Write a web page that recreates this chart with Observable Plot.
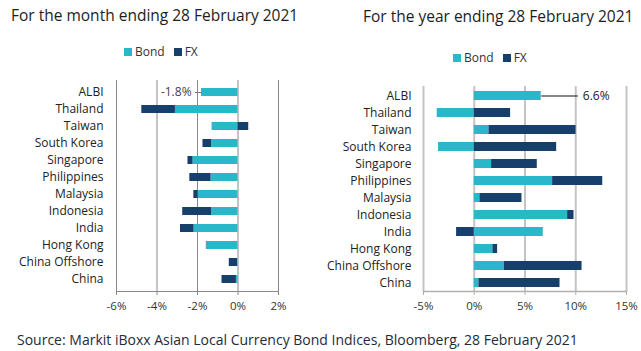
<!DOCTYPE html>
<html>
<head>
<meta charset="utf-8">
<script src="https://cdn.jsdelivr.net/npm/d3@7"></script>
<script src="https://cdn.jsdelivr.net/npm/@observablehq/plot@0.6"></script>
<style>
  html, body { margin: 0; padding: 0; background: #fff; }
  #wrap { position: relative; width: 641px; height: 351px; overflow: hidden; font-family: "Open Sans", sans-serif; color: #1d1d1b; }
  .title { position: absolute; font-size: 15.5px; white-space: nowrap; line-height: 20px; }
  .legend { position: absolute; font-size: 12px; white-space: nowrap; line-height: 14px; color: #333; }
  .sw { display: inline-block; width: 8px; height: 8px; margin-right: 3px; vertical-align: 0px; }
  .item { margin-right: 9px; }
  .caption { position: absolute; font-size: 14px; white-space: nowrap; line-height: 18px; color: #1d2b3a; }
  .plot { position: absolute; top: 70px; }
</style>
</head>
<body>
<div id="wrap">
  <div class="title" style="left:11px; top:5px;">For the month ending 28 February 2021</div>
  <div class="title" style="left:363px; top:6px;">For the year ending 28 February 2021</div>
  <div class="legend" id="legL" style="left:124px; top:45px;"></div>
  <div class="legend" id="legR" style="left:453px; top:51px;"></div>
  <div class="plot" id="left" style="left:0px;"></div>
  <div class="plot" id="right" style="left:320px;"></div>
  <div class="caption" style="left:17px; top:331px;">Source: Markit iBoxx Asian Local Currency Bond Indices, Bloomberg, 28 February 2021</div>
</div>
<script>
const categories = ["ALBI","Thailand","Taiwan","South Korea","Singapore","Philippines","Malaysia","Indonesia","India","Hong Kong","China Offshore","China"];
const series = ["Bond","FX"];
const colors = ["#29b8c9","#173f6b"];
// month ending 28 Feb 2021 (%)
const monthBond = [-1.80, -3.09, -1.28, -1.30, -2.22, -1.33, -1.97, -1.30, -2.17, -1.54, -0.02, -0.08];
const monthFX   = [ 0.00, -1.66,  0.53, -0.43, -0.25, -1.05, -0.21, -1.43, -0.67, -0.02, -0.41, -0.71];
// year ending 28 Feb 2021 (%)
const yearBond = [6.60, -3.65, 1.45, -3.52, 1.71, 7.72, 0.56, 9.20, 6.80, 1.84, 2.96, 0.46];
const yearFX   = [0.00,  3.58, 8.58,  8.12, 4.50, 4.94, 4.14, 0.63, -1.74, 0.46, 7.66, 7.99];
const monthTicks = [-6, -4, -2, 0, 2];
const yearTicks = [-5, 0, 5, 10, 15];
const monthLabel = "-1.8%";
const yearLabel = "6.6%";

function rows(bond, fx) {
  const out = [];
  categories.forEach((c, i) => {
    out.push({cat: c, type: series[0], value: bond[i]});
    out.push({cat: c, type: series[1], value: fx[i]});
  });
  return out;
}

function legend(el) {
  el.innerHTML = series.map((s, i) =>
    `<span class="item"><span class="sw" style="background:${colors[i]}"></span>${s}</span>`).join("");
}
legend(document.getElementById("legL"));
legend(document.getElementById("legR"));

const fmt = d => `${d}%`;
const font = {fontFamily: "'Open Sans', sans-serif", fontSize: "12px", background: "transparent", color: "#222"};

// LEFT: month
const mData = rows(monthBond, monthFX);
const albiM = [{cat: categories[0], total: monthBond[0] + monthFX[0], label: monthLabel}];
const left = Plot.plot({
  width: 320, height: 251,
  marginLeft: 116, marginRight: 42, marginTop: 10, marginBottom: 30,
  style: font,
  x: {domain: [monthTicks[0], monthTicks[monthTicks.length - 1]]},
  y: {domain: categories, paddingInner: 0.54, paddingOuter: 0.3},
  color: {domain: series, range: colors},
  marks: [
    Plot.ruleX(monthTicks, {stroke: "#8a8a8a", strokeWidth: 1}),
    Plot.frame({anchor: "bottom", stroke: "#8a8a8a", strokeWidth: 1}),
    Plot.barX(mData, Plot.stackX({y: "cat", x: "value", fill: "type", order: series})),
    Plot.link(albiM, {y1: "cat", y2: "cat", x1: "total", x2: d => d.total - 0.33, stroke: "#777", strokeWidth: 1}),
    Plot.text(albiM, {y: "cat", x: "total", text: "label", dx: -10, textAnchor: "end", fontSize: 12, fill: "#444"}),
    Plot.axisX({ticks: monthTicks, tickFormat: fmt, tickSize: 4, tickPadding: 6, stroke: "#8a8a8a", fill: "#333", fontSize: 11.5, label: null}),
    Plot.axisY({tickSize: 0, tickPadding: 13, fill: "#222", fontSize: 12, label: null})
  ]
});
document.getElementById("left").appendChild(left);

// RIGHT: year
const yData = rows(yearBond, yearFX);
const albiY = [{cat: categories[0], total: yearBond[0] + yearFX[0], label: yearLabel}];
const right = Plot.plot({
  width: 321, height: 251,
  marginLeft: 103, marginRight: 15, marginTop: 16, marginBottom: 30,
  style: font,
  x: {domain: [yearTicks[0], yearTicks[yearTicks.length - 1]]},
  y: {domain: categories, paddingInner: 0.5, paddingOuter: 0.24},
  color: {domain: series, range: colors},
  marks: [
    Plot.ruleX(yearTicks, {stroke: "#c4c4c4", strokeWidth: 2}),
    Plot.frame({anchor: "bottom", stroke: "#b0b0b0", strokeWidth: 1.5}),
    Plot.barX(yData, Plot.stackX({y: "cat", x: "value", fill: "type", order: series})),
    Plot.link(albiY, {y1: "cat", y2: "cat", x1: "total", x2: d => d.total + 3.6, stroke: "#111", strokeWidth: 1.2}),
    Plot.text(albiY, {y: "cat", x: d => d.total + 3.6, text: "label", dx: 5, textAnchor: "start", fontSize: 12, fill: "#222"}),
    Plot.axisX({ticks: yearTicks, tickFormat: fmt, tickSize: 4, tickPadding: 6, stroke: "#b0b0b0", fill: "#333", fontSize: 11.5, label: null}),
    Plot.axisY({tickSize: 0, tickPadding: 12, fill: "#222", fontSize: 12, label: null})
  ]
});
document.getElementById("right").appendChild(right);
</script>
</body>
</html>
